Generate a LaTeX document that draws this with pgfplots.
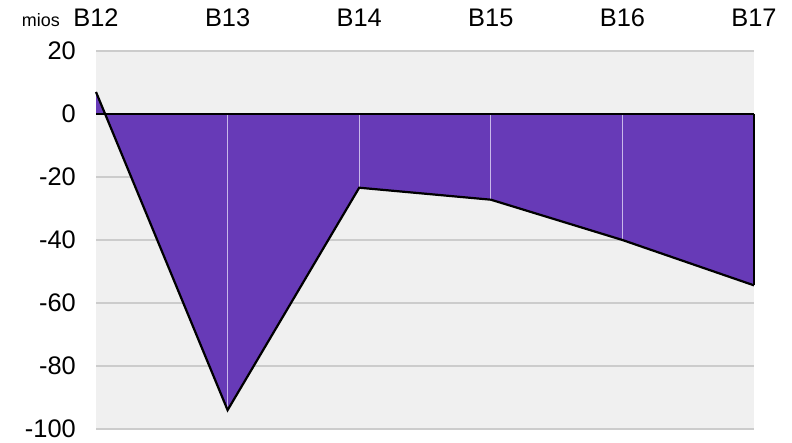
\documentclass[border=0pt]{standalone}
\usepackage{fontspec}
\setmainfont{Liberation Sans}
\usepackage{pgfplots}
\pgfplotsset{compat=1.18}
\definecolor{areafill}{HTML}{673AB7}
\definecolor{plotbg}{HTML}{F0F0F0}
\definecolor{gridc}{HTML}{CCCCCC}
\definecolor{combc}{HTML}{C9B8EA}
\begin{document}
\begin{tikzpicture}
\begin{axis}[
  name=plot,
  scale only axis,
  width=658bp, height=378bp,
  xmin=0, xmax=5, ymin=-100, ymax=20,
  clip=false,
  axis background/.style={fill=plotbg},
  axis line style={draw=none},
  major tick length=0pt,
  xtick={0,1,2,3,4,5},
  xticklabels={B12,B13,B14,B15,B16,B17},
  xticklabel pos=upper,
  ytick={-100,-80,-60,-40,-20,0,20},
  yticklabels={-100,-80,-60,-40,-20,0,20},
  ymajorgrids,
  major grid style={color=gridc, line width=1.2bp},
  tick label style={font=\fontsize{25.5}{30}\selectfont},
  xticklabel style={anchor=base, yshift=24bp, inner sep=0pt},
  yticklabel style={anchor=east, xshift=-20bp, inner sep=0pt},
]
\addplot[fill=areafill, draw=none] coordinates {(0,7) (1,-94) (2,-23.4) (3,-27.2) (4,-40) (5,-54.4)} \closedcycle;
\addplot[ycomb, draw=combc, line width=1bp] coordinates {(1,-94) (2,-23.4) (3,-27.2) (4,-40)};
\addplot[black, line width=1.2bp] coordinates {(5,0) (5,-54.4)};
\addplot[black, line width=2.2bp] coordinates {(0,0) (5,0)};
\addplot[black, line width=2.2bp] coordinates {(0,7) (1,-94) (2,-23.4) (3,-27.2) (4,-40) (5,-54.4)};
\node[anchor=base east, font=\fontsize{18}{21}\selectfont, inner sep=0pt] at ([xshift=-36bp, yshift=24bp]current axis.north west) {mios};
\end{axis}
\pgfresetboundingbox
\path ([xshift=-96bp, yshift=-13bp]plot.south west) rectangle ([xshift=38bp, yshift=51bp]plot.north east);
\end{tikzpicture}
\end{document}
